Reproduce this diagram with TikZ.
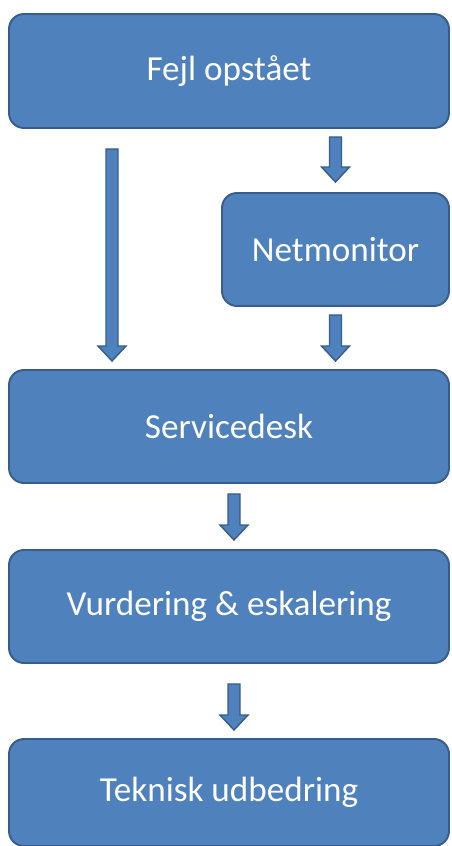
\documentclass[tikz,border=0pt]{standalone}
\usepackage{fontspec}
\setmainfont{Carlito}
\usetikzlibrary{calc}
\definecolor{boxblue}{HTML}{4F81BD}
\definecolor{boxline}{HTML}{385D8A}
\tikzset{
  stepbox/.style={draw=boxline,line width=1.1pt,fill=boxblue,rounded corners=0.3cm,text=white,font=\fontsize{20}{24}\selectfont},
  blockarrow/.style={draw=boxline,line width=0.8pt,fill=boxblue,
    to path={let \p1=(\tikztostart),\p2=(\tikztotarget) in
      (\x1-0.12cm,\y1) -- (\x1+0.12cm,\y1) -- (\x1+0.12cm,\y2+0.3cm) -- (\x1+0.28cm,\y2+0.3cm)
      -- (\x1,\y2) -- (\x1-0.28cm,\y2+0.3cm) -- (\x1-0.12cm,\y2+0.3cm) -- cycle}}
}
\begin{document}
\begin{tikzpicture}
\useasboundingbox (0,0) rectangle (9.02,-16.92);
\node[stepbox,minimum width=8.8cm,minimum height=2.28cm] (fejl) at (4.58,-1.42) {Fejl opstået};
\node[stepbox,minimum width=4.54cm,minimum height=2.26cm] (netmon) at (6.71,-4.99) {Netmonitor};
\node[stepbox,minimum width=8.8cm,minimum height=2.26cm] (service) at (4.58,-8.53) {Servicedesk};
\node[stepbox,minimum width=8.8cm,minimum height=2.26cm] (vurd) at (4.58,-12.13) {Vurdering \& eskalering};
\node[stepbox,minimum width=8.8cm,minimum height=2.14cm] (teknisk) at (4.58,-15.85) {Teknisk udbedring};
% arrow ends
\coordinate (a1s) at ([xshift=2.08cm,yshift=-0.4cm]fejl.south west);
\coordinate (a1e) at ([xshift=2.08cm,yshift=0.16cm]service.north west);
\coordinate (a2s) at ([yshift=-0.16cm]fejl.south -| netmon.north);
\coordinate (a2e) at ([yshift=0.2cm]netmon.north);
\coordinate (a3s) at ([yshift=-0.16cm]netmon.south);
\coordinate (a3e) at ([yshift=0.16cm]service.north -| netmon.south);
\coordinate (a4s) at ([xshift=0.1cm,yshift=-0.2cm]service.south);
\coordinate (a4e) at ([xshift=0.1cm,yshift=0.18cm]vurd.north);
\coordinate (a5s) at ([xshift=0.1cm,yshift=-0.4cm]vurd.south);
\coordinate (a5e) at ([xshift=0.1cm,yshift=0.16cm]teknisk.north);
\draw[blockarrow] (a1s) to (a1e);
\draw[blockarrow] (a2s) to (a2e);
\draw[blockarrow] (a3s) to (a3e);
\draw[blockarrow] (a4s) to (a4e);
\draw[blockarrow] (a5s) to (a5e);
\end{tikzpicture}
\end{document}
